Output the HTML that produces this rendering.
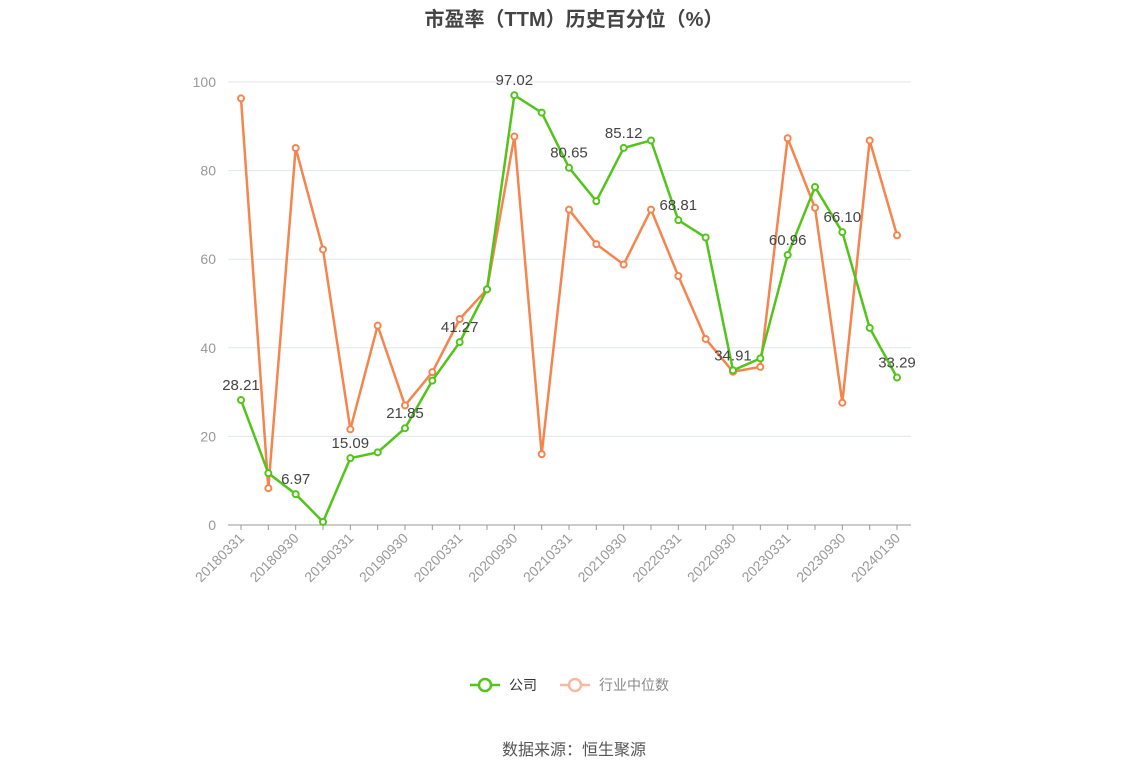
<!DOCTYPE html>
<html><head><meta charset="utf-8"><style>
body{margin:0;background:#fff;font-family:"Liberation Sans","Noto Sans CJK SC",sans-serif;}
</style></head><body>
<svg id="c" width="1148" height="776" xmlns="http://www.w3.org/2000/svg">
<text x="574" y="26" text-anchor="middle" font-size="20" font-weight="bold" fill="#444" font-family="Liberation Sans,Noto Sans CJK SC,sans-serif">市盈率（TTM）历史百分位（%）</text>
<g id="grid"></g><g id="axes"></g><g id="series"></g>
<g>
<line x1="470" y1="685" x2="500" y2="685" stroke="#52c41a" stroke-width="2.5"/>
<circle cx="485" cy="685" r="6" fill="#fff" stroke="#52c41a" stroke-width="2.5"/>
<text x="509" y="690" font-size="14" fill="#333">公司</text>
<line x1="560" y1="685" x2="590" y2="685" stroke="#f9b9a0" stroke-width="2.5"/>
<circle cx="575" cy="685" r="6" fill="#fff" stroke="#f9b9a0" stroke-width="2.5"/>
<text x="599" y="690" font-size="14" fill="#888">行业中位数</text>
</g>
<text x="574" y="755" text-anchor="middle" font-size="16" fill="#555">数据来源：恒生聚源</text>
</svg>
<script>
const categories=["20180331","20180630","20180930","20181231","20190331","20190630","20190930","20191231","20200331","20200630","20200930","20201231","20210331","20210630","20210930","20211231","20220331","20220630","20220930","20221231","20230331","20230630","20230930","20231231","20240130"];
const companyValues=[28.21,11.7,6.97,0.7,15.09,16.4,21.85,32.6,41.27,53.2,97.02,93.1,80.65,73.1,85.12,86.8,68.81,64.9,34.91,37.6,60.96,76.3,66.10,44.5,33.29];
const industryValues=[96.3,8.3,85.1,62.2,21.6,45.0,27.0,34.5,46.5,53.2,87.7,16.0,71.2,63.4,58.8,71.2,56.2,42.0,34.6,35.7,87.3,71.6,27.6,86.8,65.4];
const yTicks=[0,20,40,60,80,100];
const NS="http://www.w3.org/2000/svg";
const x0=241,x1=897,yb=525,yt=82,left=228,right=911;
const X=i=>x0+(x1-x0)*i/(categories.length-1);
const Y=v=>yb-(yb-yt)*v/100;
function mk(tag,attrs,parent,txt){const e=document.createElementNS(NS,tag);for(const k in attrs)e.setAttribute(k,attrs[k]);if(txt!==undefined)e.textContent=txt;parent.appendChild(e);return e;}
const grid=document.getElementById('grid'),axes=document.getElementById('axes'),ser=document.getElementById('series');
yTicks.forEach(t=>{
  const l=mk('line',{x1:left,x2:right,y1:Y(t),y2:Y(t),stroke:t===0?'#999':'#e0e6f1','stroke-width':1},grid);
  
  
  const tx=mk('text',{x:216,y:Y(t)+5,'text-anchor':'end','font-size':14,fill:'#999'},axes,String(t));
  
  
});
categories.forEach((c,i)=>{
  mk('line',{x1:X(i),x2:X(i),y1:yb,y2:yb+5,stroke:'#999'},axes);
  if(i%2===0){
    const tx=mk('text',{transform:`translate(${X(i)+4},${yb+14}) rotate(-45)`,'text-anchor':'end','font-size':14,fill:'#999'},axes,c);
    
    
  }
});
function drawSeries(vals,color,name,labels){
  const p=mk('polyline',{points:vals.map((v,i)=>X(i)+','+Y(v)).join(' '),fill:'none',stroke:color,'stroke-width':2.5},ser);
  
  
  vals.forEach((v,i)=>{
    const c=mk('circle',{cx:X(i),cy:Y(v),r:3,fill:'#fff',stroke:color,'stroke-width':2},ser);
    
    
  });
}
drawSeries(industryValues,'#f5854f','industry');
drawSeries(companyValues,'#52c41a','company');
companyValues.forEach((v,i)=>{
  if(i%2===0){
    const t=mk('text',{x:X(i),y:Y(v)-10,'text-anchor':'middle','font-size':15,fill:'#444'},ser,v.toFixed(2));
    
    
  }
});
</script>
</body></html>
